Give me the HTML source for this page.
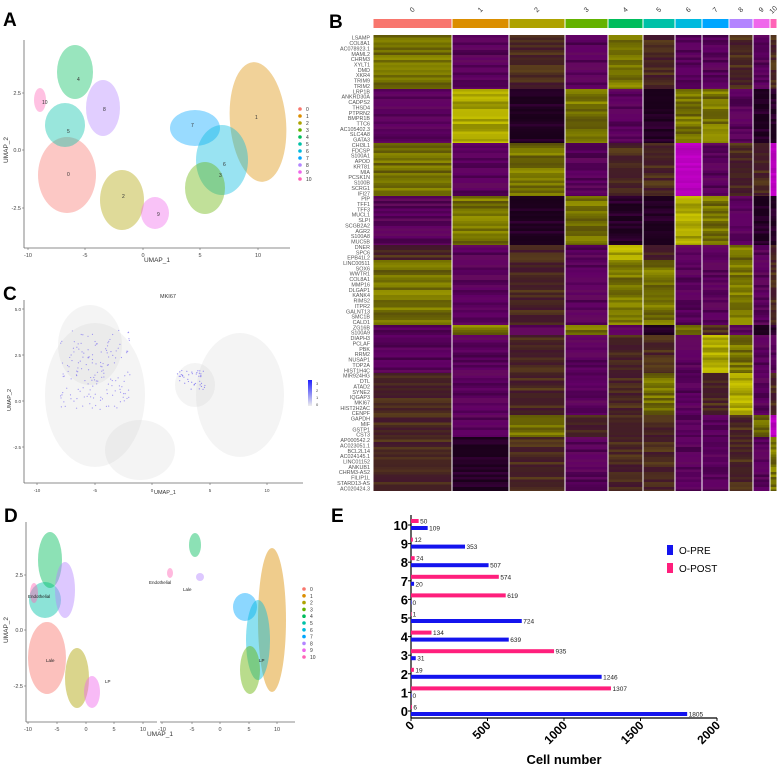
<!DOCTYPE html>
<html><head><meta charset="utf-8">
<style>
html,body{margin:0;padding:0;background:#fff;}
body{width:783px;height:768px;overflow:hidden;font-family:"Liberation Sans",sans-serif;}
svg text{font-family:"Liberation Sans",sans-serif;}
</style></head>
<body>
<svg id="fig" width="783" height="768" viewBox="0 0 783 768" xmlns="http://www.w3.org/2000/svg">
  <text x="3" y="26" font-size="19" font-weight="bold">A</text>
  <text x="329" y="28" font-size="19" font-weight="bold">B</text>
  <text x="3" y="300" font-size="19" font-weight="bold">C</text>
  <text x="4" y="522" font-size="19" font-weight="bold">D</text>
  <text x="331" y="522" font-size="19" font-weight="bold">E</text>
  <g id="pa"></g>
  <g id="pb"></g>
  <g id="pc"></g>
  <g id="pd"></g>
  <g id="pe"></g>
</svg>
<script>
// ===== Panel E data =====
const categories = ["0","1","2","3","4","5","6","7","8","9","10"];
const oPre  = [1805, 0, 1246, 31, 639, 724, 0, 20, 507, 353, 109];
const oPost = [6, 1307, 19, 935, 134, 1, 619, 574, 24, 12, 50];
const xTicks = [0, 500, 1000, 1500, 2000];
// ===== Heatmap data =====
const clusterIds = ["0","1","2","3","4","5","6","7","8","9","10"];
const genes = ["LSAMP","COL8A1","AC078923.1","MAML2","CHRM3","XYLT1","DMD","XKR4","TRIM9","TRIM2","LRP1B","ANKRD30A","CADPS2","THSD4","PTPRN2","BMPR1B","TTC6","AC105402.3","SLC4A8","GATA3","CHI3L1","FDCSP","S100A1","APOD","KRT81","MIA","PCSK1N","S100B","SCRG1","IFI27","PIP","TFF1","TFF3","MUCL1","SLPI","SCGB2A2","AGR2","S100A8","MUC5B","DNER","SPC6","EPB41L2","LINC00511","SOX6","WWTR1","COL8A1","MMP16","DLGAP1","KANK4","RIMS2","ITPR2","GALNT13","SMC1B","CALD1","ZG16B","S100A9","DIAPH3","PCLAF","PBK","RRM2","NUSAP1","TOP2A","HIST1H4C","MIR924HG","DTL","ATAD2","SYNE2","IQGAP3","MKI67","HIST2H2AC","CENPF","GAPDH","MIF","GSTP1","CST3","AP000542.2","AC023051.1","BCL2L14","AC024145.1","LINC01152","ANKUB1","CHRM3-AS2","FILIP1L","STARD13-AS","AC020424.3"];
const blockLevels = [
 [3,1,2,1,3,2,1,1,2,1,2],
 [1,4,0,3,1,0,3,3,1,0,0],
 [3,1,3,1,2,2,1.5,1,2,2,1.5],
 [1,3,0,3,0,0,4,3,1,0,0],
 [2,1,2,1,4,2,1,1,3,1,2],
 [3,1,2,1,3,3,1,1,3,1,2],
 [1,3,1,3,1,0,3,2,1,0,0],
 [1,1,2,1,2,2,1,4,3,1,1],
 [2,1,2,1,2,3,1,2,4,1,2],
 [2,1,3,2,2,2,1,1,2,3,1.5],
 [2,0,2,1,2,2,1,1,2,1,3]
];
const blockRowEdges = [35,89,143,196,245,260,325,335,373,415,437,491];
const colEdges = [373,452,509,565,608,643,675,702,729,753,770,777];
const pal = ["#F8766D","#DB8E00","#AEA200","#64B200","#00BD5C","#00C1A7","#00BADE","#00A6FF","#B385FF","#EF67EB","#FF63B6"];

const NS="http://www.w3.org/2000/svg";
function mk(tag, attrs, parent, txt){const e=document.createElementNS(NS,tag);for(const k in attrs)e.setAttribute(k,attrs[k]);if(txt!==undefined)e.textContent=txt;parent.appendChild(e);return e;}
function hash(a,b){let h=(a*374761393+b*668265263)>>>0;h=((h^(h>>>13))*1274126177)>>>0;return ((h^(h>>>16))>>>0)/4294967296;}

// ===== Panel B heatmap =====
(function(){
 const g=document.getElementById('pb');
 clusterIds.forEach((c,i)=>{
  const x0=colEdges[i]+0.5,x1=colEdges[i+1]-0.5;
  const r=mk('rect',{x:x0,y:19,width:x1-x0,height:9,fill:pal[i]},g);
  
  
  const cx=(x0+x1)/2;
  const t=mk('text',{x:cx,y:12,'font-size':7,fill:'#333','text-anchor':'middle',transform:'rotate(-45 '+cx+' 10)'},g,c);
  
  
 });
 const lc=[[30,0,30],[100,0,105],[70,35,35],[120,118,0],[185,180,0]];
 function col(l,v){
  if(l===1.5) return 'rgb('+Math.round(170+v*30)+',0,'+Math.round(175+v*30)+')';
  let a=Math.floor(l),f=l-a; let b=Math.min(4,a+1);
  const c=lc[a].map((x,k)=>x+(lc[b][k]-x)*f);
  return 'rgb('+c.map(x=>Math.max(0,Math.min(255,Math.round(x*(0.85+v*0.25))))).join(',')+')';
 }
 blockLevels.forEach((row,bi)=>{
  const y0=blockRowEdges[bi],y1=blockRowEdges[bi+1];
  for(let y=y0;y<y1;y+=2.5){
   row.forEach((lv,ci)=>{
    const v=hash(Math.round(y*4),ci+bi*13);
    let l=lv;
    if(l!==1.5){ l=Math.max(0,Math.min(4,lv+(v-0.5)*0.6)); }
    const r=mk('rect',{x:colEdges[ci]+0.5,y:y,width:colEdges[ci+1]-colEdges[ci]-1,height:Math.min(2.6,y1-y),fill:col(l,v)},g);
    
    
   });
  }
 });
 const step=(491-35)/genes.length;
 genes.forEach((gn,i)=>{
  const t=mk('text',{x:370,y:35+step*(i+0.5)+2,'font-size':5.4,fill:'#555','text-anchor':'end'},g,gn);
  
  
 });
})();

// ===== UMAP helpers =====
function axes(g,o){
 mk('line',{x1:o.x0,y1:o.yTop,x2:o.x0,y2:o.yAx,stroke:'#666','stroke-width':0.8},g);
 (o.xSegs||[[o.x0,o.xEnd]]).forEach(s=>mk('line',{x1:s[0],y1:o.yAx,x2:s[1],y2:o.yAx,stroke:'#666','stroke-width':0.8},g));
 o.xt.forEach(t=>{mk('line',{x1:t[0],y1:o.yAx,x2:t[0],y2:o.yAx+2,stroke:'#666','stroke-width':0.6},g);mk('text',{x:t[0],y:o.yAx+9,'font-size':o.fs||5.5,fill:'#444','text-anchor':'middle'},g,t[1]);});
 o.yt.forEach(t=>{mk('line',{x1:o.x0-2,y1:t[0],x2:o.x0,y2:t[0],stroke:'#666','stroke-width':0.6},g);mk('text',{x:o.x0-3,y:t[0]+2,'font-size':o.fs||5.5,fill:'#444','text-anchor':'end'},g,t[1]);});
 const a=mk('text',{x:o.xlab[0],y:o.xlab[1],'font-size':o.lfs||6.5,fill:'#333','text-anchor':'middle'},g,'UMAP_1');
 
 const b=mk('text',{x:o.ylab[0],y:o.ylab[1],'font-size':o.lfs||6.5,fill:'#333','text-anchor':'middle',transform:'rotate(-90 '+o.ylab[0]+' '+o.ylab[1]+')'},g,'UMAP_2');
 
}
function blobs(g,list,op){
 list.forEach(b=>{
  const e=mk('ellipse',{cx:b[1],cy:b[2],rx:b[3],ry:b[4],fill:b[0]===null?'#ccc':pal[b[0]],'fill-opacity':op,transform:b[5]?'rotate('+b[5]+' '+b[1]+' '+b[2]+')':''},g);
  
 });
}
function legend(g,x,y0,dy,fs){
 pal.forEach((c,i)=>{
  mk('circle',{cx:x,cy:y0+i*dy,r:1.8,fill:c},g);
  const t=mk('text',{x:x+6,y:y0+i*dy+2,'font-size':fs,fill:'#333'},g,String(i));
  
 });
}

// ===== Panel A =====
(function(){
 const g=document.getElementById('pa');
 blobs(g,[[0,67,175,29,38],[2,122,200,22,30],[9,155,213,14,16],[5,65,125,20,22],[4,75,72,18,27],[8,103,108,17,28],[10,40,100,6,12],
  [1,258,122,28,60,-5],[7,195,128,25,18],[6,222,160,26,35],[3,205,188,20,26]],0.4);
 [["0",67,176],["2",122,198],["9",157,216],["5",67,133],["4",77,81],["8",103,111],["10",42,104],["1",255,119],["7",191,127],["6",223,166],["3",219,177]].forEach(l=>mk('text',{x:l[1],y:l[2],'font-size':5,fill:'#333'},g,l[0]));
 axes(g,{x0:24,xEnd:290,yTop:40,yAx:248,xt:[[28,'-10'],[85,'-5'],[143,'0'],[200,'5'],[258,'10']],yt:[[93,'2.5'],[150,'0.0'],[208,'-2.5']],xlab:[157,262],ylab:[8,150]});
 legend(g,300,109,7,5);
})();

// ===== Panel C =====
(function(){
 const g=document.getElementById('pc');
 blobs(g,[[null,95,395,50,72],[null,140,450,35,30],[null,90,345,32,40],[null,240,395,44,62],[null,195,385,20,22]],0.22);
 const gp=mk('g',{},g);
 for(let i=0;i<160;i++){const x=60+hash(i,7)*70,y=330+hash(i,9)*80;mk('circle',{cx:x,cy:y,r:0.6,fill:'#6a5cf0','fill-opacity':0.6},gp);}
 for(let i=0;i<40;i++){const x=177+hash(i,3)*28,y=370+hash(i,5)*20;mk('circle',{cx:x,cy:y,r:0.6,fill:'#6a5cf0','fill-opacity':0.7},gp);}
 const t=mk('text',{x:168,y:298,'font-size':5.5,fill:'#333','text-anchor':'middle'},g,'MKI67');
 
 axes(g,{x0:24,xEnd:303,yTop:300,yAx:483,xt:[[37,'-10'],[95,'-5'],[152,'0'],[210,'5'],[267,'10']],yt:[[309,'5.0'],[355,'2.5'],[401,'0.0'],[447,'-2.5']],xlab:[165,494],ylab:[11,400],fs:4.5,lfs:5.5});
 const defs=mk('defs',{},g);const lg=mk('linearGradient',{id:'cb',x1:0,y1:1,x2:0,y2:0},defs);
 mk('stop',{offset:0,'stop-color':'#eeeeee'},lg);mk('stop',{offset:1,'stop-color':'#2020ff'},lg);
 const cb=mk('rect',{x:308,y:380,width:4,height:26,fill:'url(#cb)'},g);
 
 [[3,385],[2,392],[1,399],[0,406]].forEach(t=>mk('text',{x:316,y:t[1],'font-size':4,fill:'#444'},g,String(t[0])));
})();

// ===== Panel D =====
(function(){
 const g=document.getElementById('pd');
 blobs(g,[[0,47,658,19,36],[2,77,678,12,30],[9,92,692,8,16],[5,45,600,16,18],[4,50,560,12,28],[8,65,590,10,28],[10,34,593,4,10],
  [1,272,620,14,72],[7,245,607,12,14],[6,258,640,12,40],[3,250,670,10,24],[4,195,545,6,12],[10,170,573,3,5],[8,200,577,4,4]],0.45);
 [["Endothelial",28,598],["Lale",46,662],["Endothelial",149,584],["Lale",183,591],["LP",105,683],["LP",259,662]].forEach(l=>mk('text',{x:l[1],y:l[2],'font-size':4.5,fill:'#222'},g,l[0]));
 axes(g,{x0:26,xEnd:295,xSegs:[[26,157],[160,295]],yTop:522,yAx:722,xt:[[28,'-10'],[57,'-5'],[86,'0'],[114,'5'],[143,'10'],[162,'-10'],[192,'-5'],[220,'0'],[249,'5'],[277,'10']],yt:[[575,'2.5'],[630,'0.0'],[686,'-2.5']],xlab:[160,736],ylab:[8,630]});
 legend(g,304,589,6.8,5);
})();

// ===== Panel E bar chart =====
(function(){
 const g=document.getElementById('pe');
 const x0=411,x1=717,yTop=515,yAx=718;
 const xs=v=>x0+(v-0)/(2000-0)*(x1-x0);
 const yc=i=>711-i*18.6;
 mk('line',{x1:x0,y1:yTop,x2:x0,y2:yAx,stroke:'#000','stroke-width':1.2},g);
 mk('line',{x1:x0,y1:yAx,x2:x1,y2:yAx,stroke:'#000','stroke-width':1.2},g);
 xTicks.forEach(t=>{
  const x=xs(t);
  mk('line',{x1:x,y1:yAx,x2:x,y2:yAx+3,stroke:'#000','stroke-width':1},g);
  const tx=mk('text',{x:x+4,y:yAx+8,'font-size':12,'font-weight':'bold','text-anchor':'end',transform:'rotate(-45 '+(x+4)+' '+(yAx+8)+')'},g,String(t));
  
 });
 categories.forEach((c,i)=>{
  const y=yc(i);
  mk('line',{x1:x0-3,y1:y,x2:x0,y2:y,stroke:'#000','stroke-width':1},g);
  const t=mk('text',{x:x0-3,y:y+5,'font-size':13,'font-weight':'bold','text-anchor':'end'},g,c);
  
  const bp=mk('rect',{x:x0,y:y-6,width:Math.max(0.6,xs(oPost[i])-x0),height:4,fill:'#ff1f7c'},g);
  
  const bb=mk('rect',{x:x0,y:y+1,width:Math.max(0.6,xs(oPre[i])-x0),height:4,fill:'#1414ee'},g);
  
  const lp=mk('text',{x:xs(oPost[i])+1.5,y:y-1.5,'font-size':6.5,fill:'#222'},g,String(oPost[i]));
  
  const lb=mk('text',{x:xs(oPre[i])+1.5,y:y+5.5,'font-size':6.5,fill:'#222'},g,String(oPre[i]));
  
 });
 const at=mk('text',{x:564,y:764,'font-size':13,'font-weight':'bold','text-anchor':'middle'},g,'Cell number');
 
 const l1=mk('rect',{x:667,y:545,width:6,height:10,fill:'#1414ee'},g);
 
 const t1=mk('text',{x:679,y:554,'font-size':10},g,'O-PRE');
 
 const l2=mk('rect',{x:667,y:563,width:6,height:10,fill:'#ff1f7c'},g);
 
 const t2=mk('text',{x:679,y:572,'font-size':10},g,'O-POST');
 
})();
</script>
</body></html>
